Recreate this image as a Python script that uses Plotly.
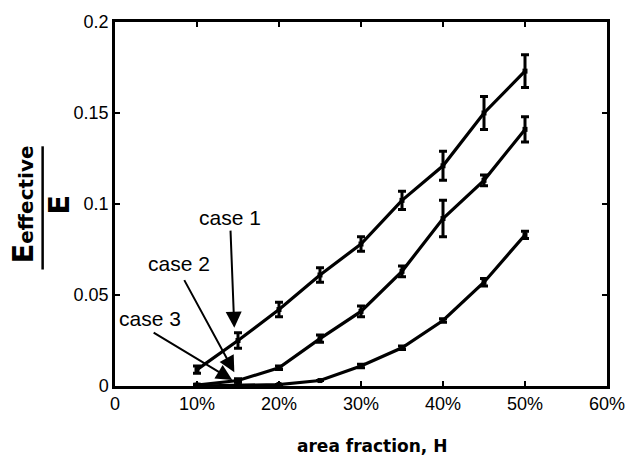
import plotly.graph_objects as go

# ---- data ----
area_pct = [10, 15, 20, 25, 30, 35, 40, 45, 50]

case1 = [0.009, 0.025, 0.042, 0.061, 0.078, 0.102, 0.121, 0.150, 0.173]
case1_err = [0.002, 0.0043, 0.004, 0.004, 0.004, 0.005, 0.008, 0.009, 0.009]

case2 = [0.0005, 0.003, 0.010, 0.026, 0.041, 0.063, 0.092, 0.113, 0.141]
case2_err = [0.0005, 0.001, 0.001, 0.002, 0.003, 0.003, 0.010, 0.003, 0.007]

case3 = [0.0, 0.0005, 0.0008, 0.003, 0.011, 0.021, 0.036, 0.057, 0.083]
case3_err = [0.0, 0.0, 0.0, 0.0, 0.001, 0.001, 0.001, 0.002, 0.002]

x_tickvals = [0, 10, 20, 30, 40, 50, 60]
x_ticktext = ["0", "10%", "20%", "30%", "40%", "50%", "60%"]
y_tickvals = [0, 0.05, 0.1, 0.15, 0.2]
y_ticktext = ["0", "0.05", "0.1", "0.15", "0.2"]

FONT = "Liberation Sans, Arial, sans-serif"
BOLD_FONT = "DejaVu Sans, Verdana, sans-serif"

fig = go.Figure()
for ys, es in [(case1, case1_err), (case2, case2_err), (case3, case3_err)]:
    fig.add_trace(go.Scatter(
        x=area_pct, y=ys, mode="lines+markers",
        line=dict(color="black", width=3.2),
        marker=dict(symbol="square", size=5, color="black"),
        error_y=dict(type="data", array=es, visible=True,
                     color="black", thickness=3, width=4),
        showlegend=False,
    ))

# annotations: labels and arrows (tip, tail in data coords)
labels = [
    ("case 1", 14.08, 0.0927, 14.55, 0.032, 14.08, 0.0862),
    ("case 2", 7.75, 0.0672, 14.55, 0.0076, 8.35, 0.059),
    ("case 3", 4.3, 0.0369, 14.3, 0.0033, 4.53, 0.0298),
]
for txt, tx, ty, hx, hy, sx, sy in labels:
    fig.add_annotation(x=tx, y=ty, xref="x", yref="y", text=txt, showarrow=False,
                       xanchor="center", yanchor="middle",
                       font=dict(family=FONT, size=21, color="black"))
    fig.add_annotation(x=hx, y=hy, xref="x", yref="y", ax=sx, ay=sy,
                       axref="x", ayref="y", text="", showarrow=True,
                       arrowhead=2, arrowsize=1.6, arrowwidth=2,
                       arrowcolor="black", standoff=0, startstandoff=0)

# y-axis label as a fraction E_effective / E
fig.add_annotation(x=-0.187, y=0.4986, xref="paper", yref="paper",
                   xanchor="center", yanchor="middle",
                   text="<b>E<span style='font-size:20px'>effective</span></b>",
                   textangle=-90, showarrow=False,
                   font=dict(family=BOLD_FONT, size=29, color="black"))
fig.add_annotation(x=-0.1153, y=0.4986, xref="paper", yref="paper",
                   xanchor="center", yanchor="middle",
                   text="<b>E</b>", textangle=-90, showarrow=False,
                   font=dict(family=BOLD_FONT, size=29, color="black"))
fig.add_shape(type="line", xref="paper", yref="paper",
              x0=-0.1471, x1=-0.1471, y0=0.32, y1=0.6585,
              line=dict(color="black", width=2.5))

# x-axis title
fig.add_annotation(x=0.523, y=-0.165, xref="paper", yref="paper",
                   text="<b>area fraction, H</b>", showarrow=False,
                   xanchor="center", yanchor="middle",
                   font=dict(family=BOLD_FONT, size=17, color="black"))

axis_common = dict(
    showline=True, linecolor="black", linewidth=2.5, mirror="ticks",
    ticks="inside", ticklen=5, tickwidth=2, tickcolor="black",
    showgrid=False, zeroline=False,
    tickfont=dict(family=FONT, size=18, color="black"),
)
fig.update_xaxes(range=[0, 60], tickvals=x_tickvals, ticktext=x_ticktext, **axis_common)
fig.update_yaxes(range=[0, 0.2], tickvals=y_tickvals, ticktext=y_ticktext, **axis_common)

fig.update_layout(
    width=637, height=456,
    margin=dict(l=115, r=19, t=17, b=70),
    paper_bgcolor="white", plot_bgcolor="white",
)

fig.write_html("out.html")
